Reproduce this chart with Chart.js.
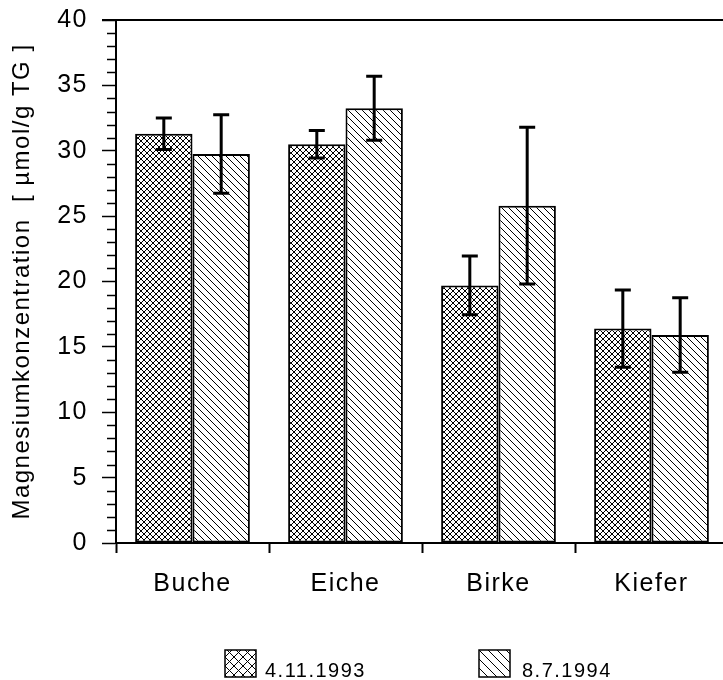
<!DOCTYPE html>
<html>
<head>
<meta charset="utf-8">
<title>Magnesiumkonzentration</title>
<script src="https://cdn.jsdelivr.net/npm/chart.js@4.4.0/dist/chart.umd.js"></script>
<style>
    html, body { margin: 0; padding: 0; background: #fff; overflow: hidden; }
    #wrap { width: 723px; height: 680px; overflow: hidden; }
    canvas { display: block; }
</style>
</head>
<body>
<div id="wrap"><canvas id="mgChart" width="740" height="680"></canvas></div>
<script>
    // Magnesium content per tree species, two sampling dates
    const categories = ['Buche', 'Eiche', 'Birke', 'Kiefer'];
    const seriesNames = ['4.11.1993', '8.7.1994'];
    const mg1993 = [31.3, 30.5, 19.7, 16.4];
    const mg1993Err = [1.2, 1.05, 2.25, 2.95];
    const mg1994 = [29.75, 33.25, 25.8, 15.9];
    const mg1994Err = [3.0, 2.45, 6.0, 2.85];
    const yMin = 0;
    const yMax = 40;
    const yStep = 5;
    const yMinorStep = 1;

    const FONT = '"Liberation Sans", Arial, Helvetica, sans-serif';
    const TRACKING = '1.5px';

    // Build a repeating hatch tile: dirs contains '\\' and/or '/'
    function makePattern(size, dirs, lineWidth) {
        const c = document.createElement('canvas');
        c.width = size;
        c.height = size;
        const g = c.getContext('2d');
        g.fillStyle = '#fff';
        g.fillRect(0, 0, size, size);
        g.strokeStyle = '#000';
        g.lineWidth = lineWidth;
        g.beginPath();
        [-size, 0, size].forEach(function(off) {
            if (dirs.indexOf('\\') >= 0) {
                g.moveTo(off, 0);
                g.lineTo(off + size, size);
            }
            if (dirs.indexOf('/') >= 0) {
                g.moveTo(off, size);
                g.lineTo(off + size, 0);
            }
        });
        g.stroke();
        return g.createPattern(c, 'repeat');
    }

    const ctx0 = document.getElementById('mgChart').getContext('2d');
    const crossFill = makePattern(6, '\\/', 1);
    const diagFill = makePattern(7, '\\', 1);
    const crossLegend = makePattern(9, '\\/', 1);
    const diagLegend = makePattern(9, '\\', 1);

    // Wide tracking like the old typesetter output
    const spacingPlugin = {
        id: 'spacing',
        beforeUpdate(chart) { chart.ctx.letterSpacing = TRACKING; },
        beforeDraw(chart) { chart.ctx.letterSpacing = TRACKING; }
    };

    // Minor y ticks plus the top frame line
    const framePlugin = {
        id: 'frame',
        afterDraw(chart) {
            const ctx = chart.ctx;
            const area = chart.chartArea;
            const y = chart.scales.y;
            ctx.save();
            ctx.strokeStyle = '#000';
            ctx.lineWidth = 1.5;
            ctx.beginPath();
            for (let v = yMin; v <= yMax; v += yMinorStep) {
                if (v % yStep === 0) continue;
                const py = Math.round(y.getPixelForValue(v)) + 0.5;
                ctx.moveTo(area.left - 9, py);
                ctx.lineTo(area.left, py);
            }
            ctx.stroke();
            ctx.lineWidth = 2;
            ctx.beginPath();
            ctx.moveTo(area.left - 14, area.top);
            ctx.lineTo(area.right, area.top);
            ctx.stroke();
            ctx.restore();
        }
    };

    // Standard deviation whiskers on each bar
    const errorPlugin = {
        id: 'errorBars',
        afterDatasetsDraw(chart) {
            const ctx = chart.ctx;
            const y = chart.scales.y;
            ctx.save();
            ctx.strokeStyle = '#000';
            ctx.lineWidth = 3;
            chart.data.datasets.forEach(function(ds, i) {
                const meta = chart.getDatasetMeta(i);
                meta.data.forEach(function(bar, j) {
                    const v = ds.data[j];
                    const e = ds.errors[j];
                    const top = y.getPixelForValue(v + e);
                    const bot = y.getPixelForValue(v - e);
                    ctx.beginPath();
                    ctx.moveTo(bar.x, top);
                    ctx.lineTo(bar.x, bot);
                    ctx.moveTo(bar.x - 8, top);
                    ctx.lineTo(bar.x + 8, top);
                    ctx.moveTo(bar.x - 8, bot);
                    ctx.lineTo(bar.x + 8, bot);
                    ctx.stroke();
                });
            });
            ctx.restore();
        }
    };

    // Legend row under the category labels
    const legendPlugin = {
        id: 'patternLegend',
        afterDraw(chart) {
            const ctx = chart.ctx;
            const items = [
                { box: 225, text: 265, fill: crossLegend, label: seriesNames[0] },
                { box: 479, text: 522, fill: diagLegend, label: seriesNames[1] }
            ];
            ctx.save();
            ctx.letterSpacing = TRACKING;
            ctx.font = '20px ' + FONT;
            ctx.textBaseline = 'alphabetic';
            items.forEach(function(it) {
                ctx.fillStyle = it.fill;
                ctx.fillRect(it.box, 650, 31, 27);
                ctx.strokeStyle = '#000';
                ctx.lineWidth = 1.5;
                ctx.strokeRect(it.box, 650, 31, 27);
                ctx.fillStyle = '#000';
                ctx.fillText(it.label, it.text, 677);
            });
            ctx.restore();
        }
    };

    new Chart(ctx0, {
        type: 'bar',
        data: {
            labels: categories,
            datasets: [{
                label: seriesNames[0],
                data: mg1993,
                errors: mg1993Err,
                backgroundColor: crossFill,
                borderColor: '#000',
                borderWidth: 2,
                borderSkipped: false,
                categoryPercentage: 0.75,
                barPercentage: 1.0
            }, {
                label: seriesNames[1],
                data: mg1994,
                errors: mg1994Err,
                backgroundColor: diagFill,
                borderColor: '#000',
                borderWidth: 2,
                borderSkipped: false,
                categoryPercentage: 0.75,
                barPercentage: 1.0
            }]
        },
        options: {
            responsive: false,
            animation: false,
            layout: { padding: { top: 20, right: 12, bottom: 0, left: 0 } },
            plugins: {
                legend: { display: false },
                tooltip: { enabled: false }
            },
            scales: {
                x: {
                    offset: true,
                    grid: {
                        offset: true,
                        drawOnChartArea: false,
                        drawTicks: true,
                        tickLength: 10,
                        tickWidth: 2,
                        tickColor: '#000'
                    },
                    border: { display: true, color: '#000', width: 2 },
                    ticks: {
                        color: '#000',
                        font: { family: FONT, size: 25 },
                        padding: 16,
                        maxRotation: 0
                    },
                    afterFit(scale) {
                        scale.height = 137;
                        scale.paddingLeft = 0;
                        scale.paddingRight = 0;
                    }
                },
                y: {
                    min: yMin,
                    max: yMax,
                    grid: {
                        drawOnChartArea: false,
                        drawTicks: true,
                        tickLength: 14,
                        tickWidth: 1.5,
                        tickColor: '#000'
                    },
                    border: { display: true, color: '#000', width: 2 },
                    ticks: {
                        stepSize: yStep,
                        color: '#000',
                        font: { family: FONT, size: 25 },
                        padding: 14
                    },
                    title: {
                        display: true,
                        text: 'Magnesiumkonzentration  [ µmol/g TG ]',
                        color: '#000',
                        font: { family: FONT, size: 24 },
                        padding: { top: 8, bottom: 0 }
                    },
                    afterFit(scale) {
                        scale.width = 116;
                        scale.paddingTop = 0;
                        scale.paddingBottom = 0;
                    }
                }
            }
        },
        plugins: [spacingPlugin, errorPlugin, framePlugin, legendPlugin]
    });
</script>
</body>
</html>
